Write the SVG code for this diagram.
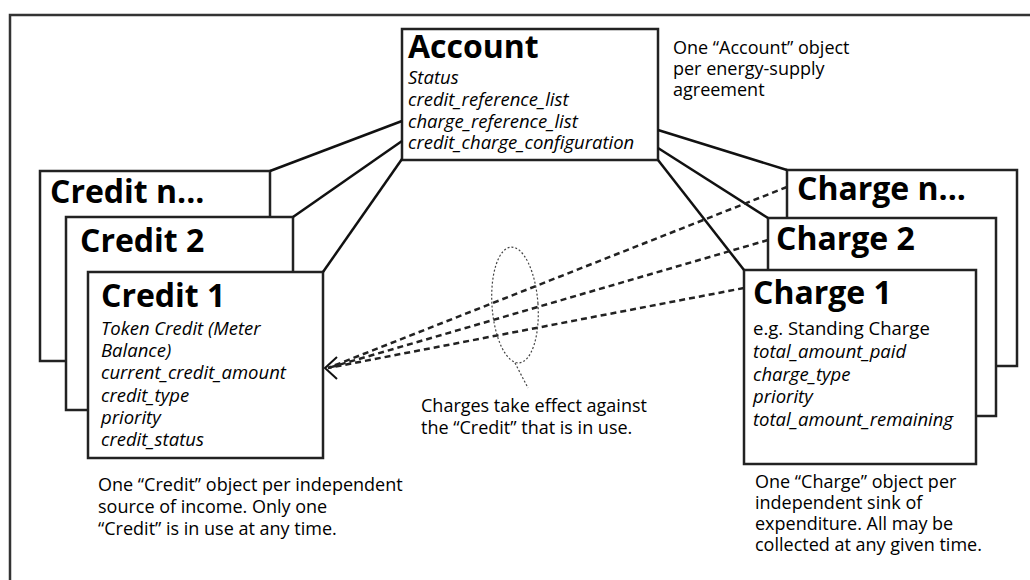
<svg xmlns="http://www.w3.org/2000/svg" width="1030" height="580" viewBox="0 0 1030 580">
<style>
  .frame{fill:none;stroke:#333;stroke-width:2.5}
  .box{fill:#fff;stroke:#222;stroke-width:2.5}
  .title{font-family:"Open Sans","Liberation Sans",sans-serif;font-weight:700;font-size:32px;fill:#000}
  .field{font-family:"Open Sans","Liberation Sans",sans-serif;font-style:italic;font-size:18.5px;fill:#000}
  .plain{font-family:"Open Sans","Liberation Sans",sans-serif;font-size:18.5px;fill:#000}
  .note{font-family:"Open Sans","Liberation Sans",sans-serif;font-size:18px;fill:#000}
  .solid{fill:none;stroke:#111;stroke-width:2.5}
  .dash{fill:none;stroke:#222;stroke-width:2.5;stroke-dasharray:6 4}
  .dot{fill:none;stroke:#444;stroke-width:1.2;stroke-dasharray:2 2}
</style>
<rect class="frame" x="10" y="15" width="1040" height="600"/>

<g id="credit-n">
  <rect class="box" x="40" y="171" width="230" height="190"/>
  <text class="title" x="50" y="203">Credit n...</text>
</g>
<g id="credit-2">
  <rect class="box" x="66" y="217" width="227" height="193"/>
  <text class="title" x="80" y="252">Credit 2</text>
</g>
<g id="credit-1">
  <rect class="box" x="88" y="272" width="235" height="186"/>
  <text class="title" x="101" y="307">Credit 1</text>
  <text class="field" x="101" y="335">Token Credit (Meter</text>
  <text class="field" x="101" y="357">Balance)</text>
  <text class="field" x="101" y="379">current_credit_amount</text>
  <text class="field" x="101" y="401.5">credit_type</text>
  <text class="field" x="101" y="423.5">priority</text>
  <text class="field" x="101" y="446">credit_status</text>
</g>

<g id="charge-n">
  <rect class="box" x="787" y="170" width="230" height="196"/>
  <text class="title" x="797" y="200">Charge n...</text>
</g>
<g id="charge-2">
  <rect class="box" x="768" y="218" width="228" height="198"/>
  <text class="title" x="776" y="250">Charge 2</text>
</g>
<g id="charge-1">
  <rect class="box" x="744" y="270" width="232" height="194"/>
  <text class="title" x="753" y="304">Charge 1</text>
  <text class="plain" x="753" y="335">e.g. Standing Charge</text>
  <text class="field" x="753" y="358">total_amount_paid</text>
  <text class="field" x="753" y="381">charge_type</text>
  <text class="field" x="753" y="403">priority</text>
  <text class="field" x="753" y="426">total_amount_remaining</text>
</g>

<g id="account">
  <rect class="box" x="402" y="29" width="256" height="131"/>
  <text class="title" x="408" y="58">Account</text>
  <text class="field" x="408" y="84">Status</text>
  <text class="field" x="408" y="106">credit_reference_list</text>
  <text class="field" x="408" y="128">charge_reference_list</text>
  <text class="field" x="408" y="149">credit_charge_configuration</text>
</g>

<g id="connectors">
  <line class="solid" x1="402" y1="121" x2="270" y2="171"/>
  <line class="solid" x1="402" y1="141" x2="293" y2="217"/>
  <line class="solid" x1="402" y1="159" x2="323" y2="272"/>
  <line class="solid" x1="658" y1="130" x2="787" y2="170"/>
  <line class="solid" x1="658" y1="148" x2="768" y2="218"/>
  <line class="solid" x1="658" y1="160" x2="744" y2="270"/>
  <line class="dash" x1="787" y1="187" x2="328" y2="368"/>
  <line class="dash" x1="768" y1="240" x2="328" y2="368"/>
  <line class="dash" x1="744" y1="288" x2="328" y2="368"/>
  <polyline class="solid" points="337,357 325,368 337,379" style="stroke-width:2"/>
  <ellipse class="dot" cx="515" cy="305" rx="23" ry="58" transform="rotate(-4 515 305)"/>
  <line class="dot" x1="515" y1="363" x2="528" y2="388"/>
</g>

<g id="notes">
  <text class="note" x="673" y="54">One “Account” object</text>
  <text class="note" x="673" y="75">per energy-supply</text>
  <text class="note" x="673" y="96">agreement</text>
  <text class="note" x="421" y="412">Charges take effect against</text>
  <text class="note" x="421" y="434">the “Credit” that is in use.</text>
  <text class="note" x="98" y="491">One “Credit” object per independent</text>
  <text class="note" x="98" y="513">source of income. Only one</text>
  <text class="note" x="98" y="535">“Credit” is in use at any time.</text>
  <text class="note" x="755" y="488">One “Charge” object per</text>
  <text class="note" x="755" y="509">independent sink of</text>
  <text class="note" x="755" y="530">expenditure. All may be</text>
  <text class="note" x="755" y="551">collected at any given time.</text>
</g>
</svg>
